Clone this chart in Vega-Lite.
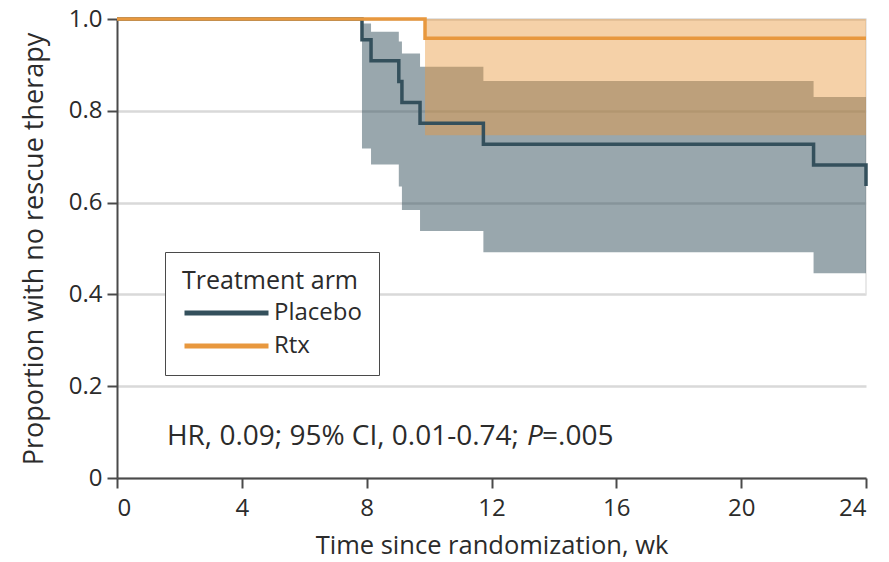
{
  "$schema": "https://vega.github.io/schema/vega-lite/v6.json",
  "width": 749,
  "height": 459,
  "autosize": {"type": "none"},
  "padding": {"left": 117, "top": 19, "right": 23, "bottom": 84},
  "background": "white",
  "config": {
    "font": "Open Sans",
    "view": {"stroke": null},
    "axis": {
      "labelFont": "Open Sans",
      "titleFont": "Open Sans",
      "labelColor": "#2b2b2b",
      "titleColor": "#2b2b2b",
      "titleFontWeight": "normal",
      "domainColor": "#4a4a4a",
      "tickColor": "#4a4a4a",
      "domainWidth": 2,
      "tickWidth": 2,
      "tickSize": 10
    }
  },
  "datasets": {
    "km": [
      {"arm": "Placebo", "week": 0, "surv": 1},
      {"arm": "Placebo", "week": 7.85, "surv": 0.955},
      {"arm": "Placebo", "week": 8.14, "surv": 0.909},
      {"arm": "Placebo", "week": 9.03, "surv": 0.864},
      {"arm": "Placebo", "week": 9.13, "surv": 0.818},
      {"arm": "Placebo", "week": 9.71, "surv": 0.773},
      {"arm": "Placebo", "week": 11.74, "surv": 0.727},
      {"arm": "Placebo", "week": 22.32, "surv": 0.682},
      {"arm": "Placebo", "week": 24, "surv": 0.636},
      {"arm": "Rtx", "week": 0, "surv": 1},
      {"arm": "Rtx", "week": 9.87, "surv": 0.958},
      {"arm": "Rtx", "week": 24, "surv": 0.958}
    ],
    "ci": [
      {"arm": "Placebo", "week": 7.85, "lo": 0.718, "hi": 0.99},
      {"arm": "Placebo", "week": 8.14, "lo": 0.683, "hi": 0.972},
      {"arm": "Placebo", "week": 9.03, "lo": 0.635, "hi": 0.951},
      {"arm": "Placebo", "week": 9.13, "lo": 0.584, "hi": 0.925},
      {"arm": "Placebo", "week": 9.71, "lo": 0.538, "hi": 0.896},
      {"arm": "Placebo", "week": 11.74, "lo": 0.492, "hi": 0.865},
      {"arm": "Placebo", "week": 22.32, "lo": 0.446, "hi": 0.83},
      {"arm": "Placebo", "week": 24, "lo": 0.446, "hi": 0.83},
      {"arm": "Rtx", "week": 9.87, "lo": 0.747, "hi": 1.0},
      {"arm": "Rtx", "week": 24, "lo": 0.747, "hi": 1.0}
    ],
    "edge": [
      {"week": 24, "from": 0.4, "to": 1.0}
    ],
    "note": [
      {"part": "a", "week": 1.6, "p": 0.072, "txt": "HR, 0.09; 95% CI, 0.01-0.74;"},
      {"part": "b", "week": 13.14, "p": 0.072, "txt": "P"},
      {"part": "c", "week": 13.62, "p": 0.072, "txt": "=.005"}
    ]
  },
  "encoding": {
    "x": {
      "type": "quantitative",
      "scale": {"domain": [0, 24], "nice": false, "zero": false}
    },
    "y": {
      "type": "quantitative",
      "scale": {"domain": [0, 1], "nice": false}
    }
  },
  "layer": [
    {
      "data": {"name": "edge"},
      "mark": {"type": "rule", "color": "#e2e2e2", "strokeWidth": 1.5},
      "encoding": {
        "x": {"field": "week", "type": "quantitative"},
        "y": {"field": "from", "type": "quantitative"},
        "y2": {"field": "to"}
      }
    },
    {
      "data": {"name": "ci"},
      "transform": [{"filter": "datum.arm == 'Placebo'"}],
      "mark": {"type": "area", "interpolate": "step-after", "color": "#34505c", "opacity": 0.5},
      "encoding": {
        "x": {"field": "week", "type": "quantitative"},
        "y": {"field": "lo", "type": "quantitative"},
        "y2": {"field": "hi"}
      }
    },
    {
      "data": {"name": "ci"},
      "transform": [{"filter": "datum.arm == 'Rtx'"}],
      "mark": {"type": "area", "interpolate": "step-after", "color": "#e8983e", "opacity": 0.45},
      "encoding": {
        "x": {"field": "week", "type": "quantitative"},
        "y": {"field": "lo", "type": "quantitative"},
        "y2": {"field": "hi"}
      }
    },
    {
      "data": {"name": "km"},
      "mark": {"type": "line", "interpolate": "step-after", "strokeWidth": 3.5, "strokeCap": "butt"},
      "encoding": {
        "x": {
          "field": "week",
          "type": "quantitative",
          "axis": {
            "title": "Time since randomization, wk",
            "values": [0, 4, 8, 12, 16, 20, 24],
            "grid": false,
            "labelFontSize": 24,
            "titleFontSize": 25.5,
            "labelPadding": 8,
            "titlePadding": 13
          }
        },
        "y": {
          "field": "surv",
          "type": "quantitative",
          "axis": {
            "title": "Proportion with no rescue therapy",
            "values": [0, 0.2, 0.4, 0.6, 0.8, 1.0],
            "labelExpr": "datum.value == 0 ? '0' : format(datum.value, '.1f')",
            "grid": true,
            "gridColor": "#d9d9d9",
            "gridWidth": 2.5,
            "labelFontSize": 24,
            "titleFontSize": 27,
            "labelPadding": 5,
            "titlePadding": 20
          }
        },
        "color": {
          "field": "arm",
          "type": "nominal",
          "scale": {"domain": ["Placebo", "Rtx"], "range": ["#34505c", "#e8983e"]},
          "legend": {
            "title": "Treatment arm",
            "orient": "none",
            "legendX": 48,
            "legendY": 233,
            "direction": "vertical",
            "symbolType": "M-1,0H7",
            "symbolSize": 441,
            "symbolStrokeWidth": 5,
            "strokeColor": "#4a4a4a",
            "fillColor": "white",
            "padding": 17,
            "titleFont": "Open Sans",
            "labelFont": "Open Sans",
            "titleFontSize": 25,
            "labelFontSize": 24,
            "titleFontWeight": "normal",
            "titleColor": "#2b2b2b",
            "labelColor": "#2b2b2b",
            "titlePadding": 6,
            "rowPadding": 8,
            "labelOffset": 66
          }
        }
      }
    },
    {
      "data": {"name": "note"},
      "transform": [{"filter": "datum.part != 'b'"}],
      "mark": {"type": "text", "align": "left", "baseline": "alphabetic", "fontSize": 28, "color": "#2b2b2b", "font": "Open Sans"},
      "encoding": {
        "x": {"field": "week", "type": "quantitative"},
        "y": {"field": "p", "type": "quantitative"},
        "text": {"field": "txt"}
      }
    },
    {
      "data": {"name": "note"},
      "transform": [{"filter": "datum.part == 'b'"}],
      "mark": {"type": "text", "align": "left", "baseline": "alphabetic", "fontSize": 28, "fontStyle": "italic", "color": "#2b2b2b", "font": "Open Sans"},
      "encoding": {
        "x": {"field": "week", "type": "quantitative"},
        "y": {"field": "p", "type": "quantitative"},
        "text": {"field": "txt"}
      }
    }
  ]
}
